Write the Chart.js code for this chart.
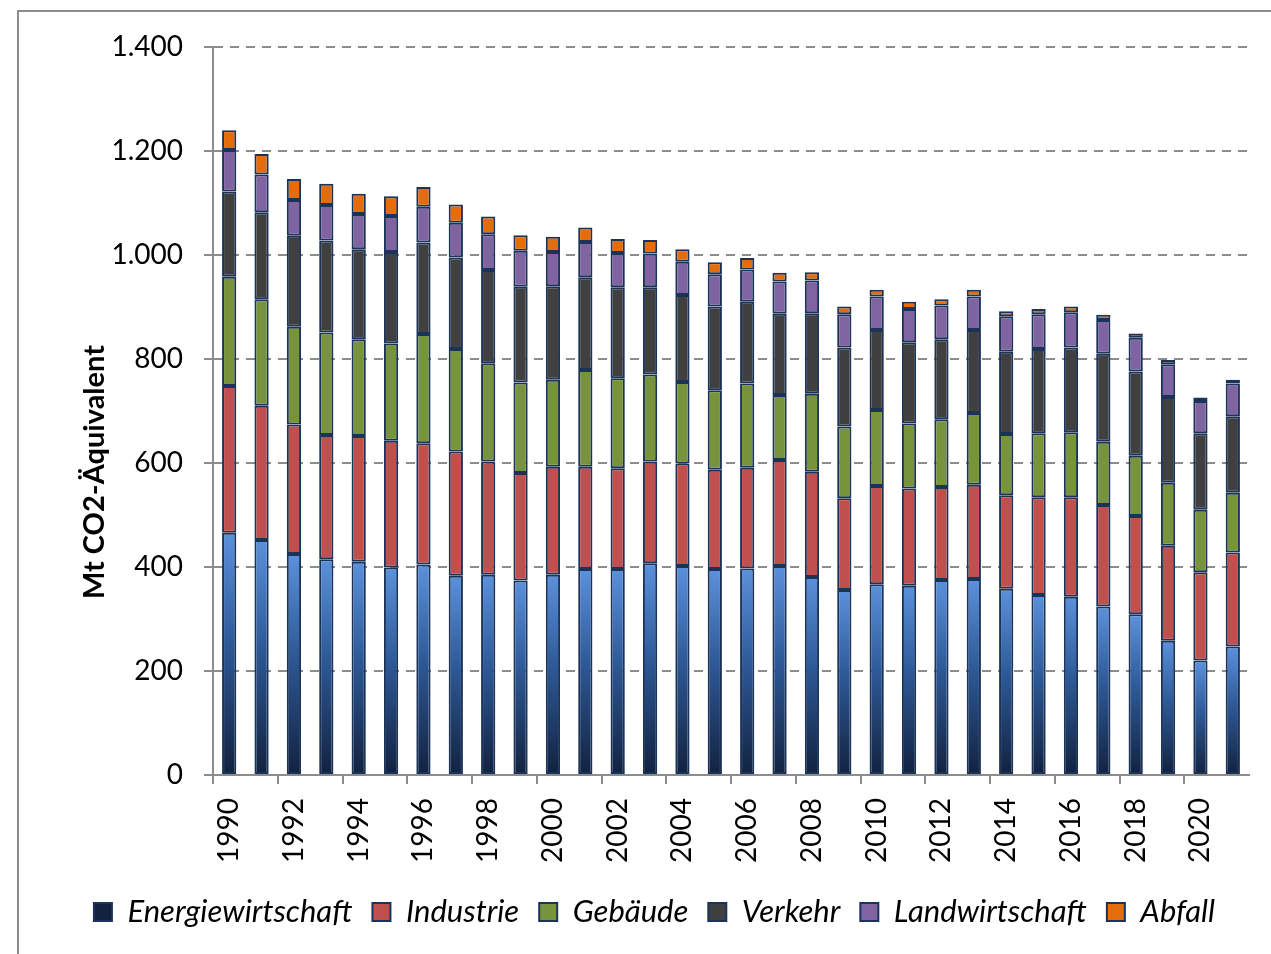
<!DOCTYPE html>
<html>
<head>
<meta charset="utf-8">
<script src="https://cdn.jsdelivr.net/npm/chart.js@4.4.1/dist/chart.umd.min.js"></script>
<style>
  html, body { margin: 0; padding: 0; background: #fff; }
  #wrap { width: 1271px; height: 954px; }
</style>
</head>
<body>
<div id="wrap"><canvas id="myBarChart" width="1271" height="954"></canvas></div>
<script>
// years on the x axis
const years = [];
for (let y = 1990; y <= 2021; y++) years.push(String(y));

// emissions per sector, Mt CO2-Äquivalent
const energie = [466, 452, 425, 415, 410, 399, 405, 383, 385, 374, 385, 396, 396, 407, 402, 396,
    397, 402, 381, 356, 367, 364, 375, 377, 358, 346, 343, 324, 309, 258, 220, 247];
const industrie = [282, 258, 249, 239, 242, 244, 233, 239, 218, 207, 208, 197, 194, 196, 197, 191,
    194, 204, 202, 176, 189, 187, 179, 181, 180, 188, 191, 195, 189, 183, 170, 181];
const gebaeude = [210, 205, 188, 197, 186, 187, 210, 197, 189, 174, 167, 186, 173, 167, 157, 153,
    162, 125, 150, 138, 146, 125, 130, 138, 118, 123, 125, 122, 116, 121, 120, 115];
const verkehr = [164, 167, 175, 177, 173, 176, 176, 176, 179, 184, 180, 178, 175, 168, 167, 161,
    157, 156, 155, 152, 154, 156, 154, 160, 158, 162, 163, 169, 162, 165, 147, 147];
const landwirtschaft = [80, 73, 69, 68, 68, 69, 69, 67, 69, 69, 66, 68, 66, 65, 64, 62,
    62, 62, 63, 64, 64, 64, 65, 64, 68, 67, 68, 65, 65, 63, 62, 63];
const abfall = [38, 39, 40, 41, 39, 38, 38, 35, 34, 30, 29, 28, 27, 26, 24, 23,
    22, 17, 16, 15, 13, 14, 12, 13, 10, 10, 11, 10, 8, 8, 7, 7];

const yTicks = [0, 200, 400, 600, 800, 1000, 1200, 1400];
const yTitle = 'Mt CO2-Äquivalent';

const FONT = 'Lato, "Open Sans", sans-serif';
const navy = '#1b3359';

// blue bars fade from light at the top to dark navy at the bottom
function energieColor(ctx) {
    const chart = ctx.chart;
    const area = chart.chartArea;
    if (!area || ctx.raw === undefined) return '#24446f';
    const yScale = chart.scales.y;
    const top = yScale.getPixelForValue(ctx.raw);
    const bottom = yScale.getPixelForValue(0);
    const g = chart.ctx.createLinearGradient(0, top, 0, bottom);
    g.addColorStop(0, '#5b91dc');
    g.addColorStop(0.45, '#2e5a98');
    g.addColorStop(1, '#12223f');
    return g;
}

function deNumber(v) {
    return String(v).replace(/\B(?=(\d{3})+(?!\d))/g, '.');
}

// grey frame round the whole chart, and the y axis title
const frame = {
    id: 'frame',
    beforeDraw(chart) {
        const c = chart.ctx;
        c.save();
        c.fillStyle = '#fff';
        c.fillRect(0, 0, chart.width, chart.height);
        c.strokeStyle = '#8c8c8c';
        c.lineWidth = 2;
        c.strokeRect(18, 11, chart.width + 20, chart.height + 20);
        c.restore();
    },
    afterDraw(chart) {
        const c = chart.ctx;
        c.save();
        c.translate(95, 472);
        c.rotate(-Math.PI / 2);
        c.font = 'bold 29px ' + FONT;
        c.fillStyle = '#000';
        c.textAlign = 'center';
        c.textBaseline = 'middle';
        c.fillText(yTitle, 0, 0);
        c.restore();
    }
};

function seg(label, data, color) {
    return {
        label: label,
        data: data,
        backgroundColor: color,
        borderColor: navy,
        borderWidth: 2,
        borderSkipped: false,
        barPercentage: 0.44,
        categoryPercentage: 1
    };
}

const barChartData = {
    labels: years,
    datasets: [
        seg('Energiewirtschaft', energie, energieColor),
        seg('Industrie', industrie, '#c0504d'),
        seg('Gebäude', gebaeude, '#77933c'),
        seg('Verkehr', verkehr, '#404040'),
        seg('Landwirtschaft', landwirtschaft, '#8064a2'),
        seg('Abfall', abfall, '#e46c0a')
    ]
};

const barChartConfig = {
    type: 'bar',
    data: barChartData,
    plugins: [frame],
    options: {
        responsive: false,
        animation: false,
        layout: { padding: { left: 60, right: 22, top: 47, bottom: 16.5 } },
        plugins: {
            tooltip: { enabled: false },
            legend: {
                position: 'bottom',
                labels: {
                    boxWidth: 18,
                    boxHeight: 18,
                    padding: 20,
                    color: '#000',
                    font: { family: FONT, size: 31, style: 'italic' }
                }
            }
        },
        scales: {
            x: {
                stacked: true,
                afterFit(scale) {
                    scale.height = 101.5;
                    scale.paddingLeft = 0;
                    scale.paddingRight = 0;
                },
                grid: {
                    offset: true,
                    drawOnChartArea: false,
                    tickLength: 9,
                    lineWidth: 2,
                    tickColor: (ctx) => (ctx.index % 2 === 0 ? '#8c8c8c' : 'rgba(0,0,0,0)')
                },
                border: { color: '#8c8c8c', width: 2 },
                ticks: {
                    autoSkip: false,
                    maxRotation: 90,
                    minRotation: 90,
                    padding: 14,
                    color: '#000',
                    font: { family: FONT, size: 28 },
                    callback: (value, index) => (index % 2 === 0 ? years[index] : '')
                }
            },
            y: {
                stacked: true,
                min: 0,
                max: 1400,
                afterFit(scale) { scale.width = 153; },
                afterBuildTicks(scale) { scale.ticks = yTicks.map(v => ({ value: v })); },
                grid: {
                    color: '#8c8c8c',
                    lineWidth: 2,
                    tickLength: 9,
                    tickColor: '#8c8c8c',
                    tickBorderDash: []
                },
                border: { color: '#8c8c8c', width: 2, dash: [9, 7] },
                ticks: {
                    padding: 21,
                    color: '#000',
                    font: { family: FONT, size: 28 },
                    callback: (value) => deNumber(value)
                }
            }
        }
    }
};

new Chart(
    document.getElementById('myBarChart'),
    barChartConfig
);
</script>
</body>
</html>
